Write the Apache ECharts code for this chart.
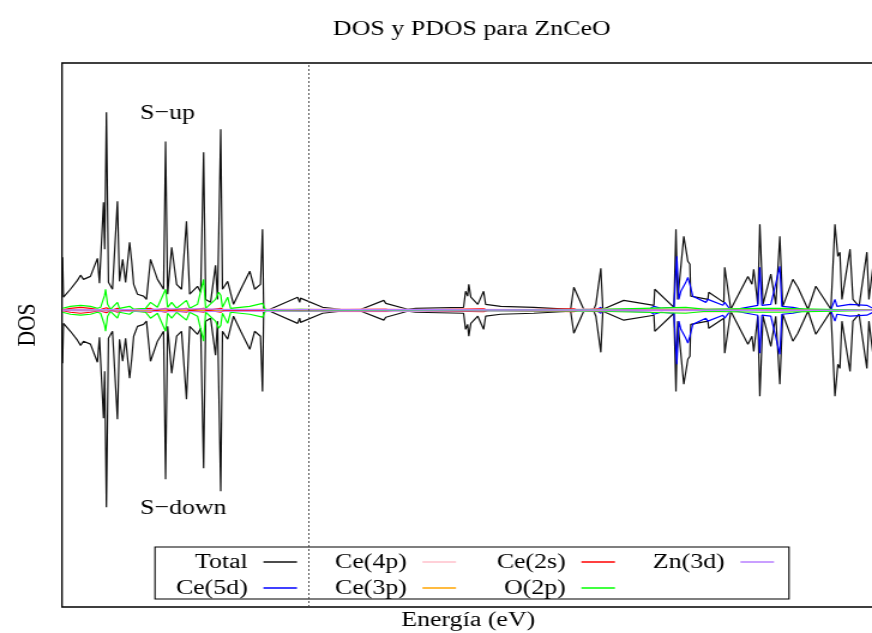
<!DOCTYPE html>
<html>
<head>
<meta charset="utf-8">
<script src="https://cdn.jsdelivr.net/npm/echarts@6/dist/echarts.min.js"></script>
<style>
  html, body { margin: 0; padding: 0; background: #ffffff; }
  /* the figure is laid out at 727px and widened to 872px, giving the wide serif lettering */
  #wrap { width: 872px; height: 633px; overflow: hidden; }
  #chart { width: 727px; height: 633px; transform: scaleX(1.19945); transform-origin: 0 0; }
</style>
</head>
<body>
<div id="wrap"><div id="chart"></div></div>
<script>
// Titles and annotations
const chartTitle = 'DOS y PDOS para ZnCeO';
const xTitle = 'Energía (eV)';
const yTitle = 'DOS';
const upLabel = 'S\u2212up';
const downLabel = 'S\u2212down';
const fermiLevel = 0;

// Total DOS: energy grid (eV) and spin-up / spin-down magnitudes
const totalE = [-8.48,-8.45,-8.21,-7.97,-7.86,-7.76,-7.52,-7.28,-7.21,-7.07,
  -7.03,-6.97,-6.90,-6.76,-6.59,-6.52,-6.41,-6.31,-6.17,-6.10,
  -6.03,-5.90,-5.69,-5.59,-5.45,-5.21,-5.00,-4.93,-4.86,-4.72,
  -4.55,-4.38,-4.21,-4.10,-3.83,-3.72,-3.62,-3.55,-3.38,-3.21,
  -3.14,-3.03,-2.97,-2.79,-2.59,-2.34,-2.03,-1.86,-1.66,-1.59,
  -1.55,-1.41,-0.38,-0.31,-0.28,0.48,1.10,1.72,2.59,2.66,
  3.41,3.69,5.34,5.41,5.48,5.52,5.59,5.83,6.03,6.10,
  6.62,7.76,9.03,9.14,9.48,9.83,9.90,10.07,10.14,10.86,
  11.90,11.93,12.59,12.66,12.72,12.93,13.07,13.14,13.17,13.76,
  13.79,14.31,14.34,14.55,15.14,15.28,15.34,15.48,15.55,15.66,
  15.93,16.10,16.24,16.34,16.69,16.86,17.21,17.48,18.00,18.14,
  18.24,18.31,18.38,18.66,18.76,18.97,19.24,19.31,19.45];
const totalUp = [2.14,0.53,0.85,1.21,1.42,1.25,1.37,2.10,1.09,4.37,
  2.47,8.01,1.13,0.85,4.41,1.17,2.06,1.13,2.75,1.98,
  1.05,0.65,0.57,0.44,2.06,1.25,0.85,6.83,0.65,2.55,
  1.05,0.85,3.60,0.65,0.97,0.73,6.39,0.44,0.32,1.82,
  0.44,7.32,0.85,1.17,0.24,0.85,1.58,0.85,1.05,3.28,
  0.04,0,0.53,0.32,0.49,0.12,0.04,0,0.40,0.28,
  0.04,0.08,0.12,0.77,0.57,1.05,0.53,0.24,0.77,0.24,
  0.16,0.12,0.04,0.93,0.04,0.04,0.24,1.70,0.04,0.40,
  0.20,0.85,0.12,3.28,0.44,2.99,1.98,1.86,0.57,0.44,
  0.73,0.32,1.74,0.04,1.37,1.05,1.66,0.24,3.48,0.24,
  1.46,0.24,2.99,0.16,1.25,0.93,0.04,0.97,0.04,3.48,
  2.18,2.35,0.44,2.47,0.44,0.16,2.35,0.44,1.78];
const totalDown = [2.14,0.53,0.85,1.21,1.42,1.25,1.37,2.10,1.09,4.37,
  2.47,7.97,1.13,0.85,4.41,1.17,2.06,1.13,2.75,1.98,
  1.05,0.65,0.57,0.44,2.06,1.25,0.85,6.83,0.65,2.55,
  1.05,0.85,3.60,0.65,0.97,0.73,6.39,0.44,0.32,1.82,
  0.44,7.32,0.85,1.17,0.24,0.85,1.58,0.85,1.05,3.28,
  0.04,0,0.53,0.32,0.49,0.12,0.04,0,0.40,0.28,
  0.04,0.08,0.12,0.77,0.57,1.05,0.53,0.24,0.77,0.24,
  0.16,0.12,0.04,0.93,0.04,0.04,0.24,1.70,0.04,0.40,
  0.20,0.85,0.12,3.28,0.44,2.99,1.98,1.86,0.57,0.44,
  0.73,0.32,1.74,0.04,1.37,1.05,1.66,0.24,3.48,0.24,
  1.46,0.24,2.99,0.16,1.25,0.93,0.04,0.97,0.04,3.48,
  2.18,2.35,0.44,2.47,0.44,0.16,2.35,0.44,1.78];

// Ce(5d)
const ce5dE = [-8.48,9.90,10.07,10.14,10.86,11.79,11.90,12.14,12.59,12.69,
  12.76,12.83,13.00,13.07,13.14,13.24,13.69,13.76,14.28,14.34,
  14.55,15.10,15.48,15.55,15.62,15.93,16.24,16.31,16.69,17.21,
  18.00,18.14,18.21,18.66,19.24,19.45];
const ce5dUp = [0,0,0.12,0,0.04,0.08,0.16,0.08,0.12,2.18,
  0.44,0.77,1.13,1.33,1.05,0.57,0.32,0.44,0.20,0.32,
  0,0.12,0.20,1.74,0.20,0.24,1.78,0.16,0.12,0,
  0.02,0.44,0.16,0.24,0.20,0.08];
const ce5dDown = [0,0,0.12,0,0.04,0.08,0.16,0.08,0.12,2.18,
  0.44,0.77,1.13,1.33,1.05,0.57,0.32,0.44,0.20,0.32,
  0,0.12,0.20,1.74,0.20,0.24,1.78,0.16,0.12,0,
  0.02,0.44,0.16,0.24,0.20,0.08];

// Ce(4p)
const ce4pE = [-8.48,-6.97,-4.93,2.59,3.41,5.52,9.14,13.00,15.55,19.45];
const ce4pUp = [0,0.04,0.04,0.06,0.04,0.04,0.05,0.08,0.06,0];
const ce4pDown = [0,0.04,0.04,0.06,0.04,0.04,0.05,0.08,0.06,0];

// Ce(3p)
const ce3pE = [-8.48,19.45];
const ce3pUp = [0,0];
const ce3pDown = [0,0];

// Ce(2s)
const ce2sE = [-8.48,-8.21,-7.86,-7.52,-7.21,-6.97,-6.80,-6.59,-6.41,-5.45,
  -5.30,-4.93,-4.80,-4.21,-4.10,-3.62,-3.50,-3.03,-2.90,2.66,
  3.00,6.03,6.20,9.14,9.30,10.07,10.20,19.45];
const ce2sUp = [0.02,0.08,0.12,0.08,0.02,0.10,0,0.08,0,0.08,
  0,0.08,0,0.08,0,0.08,0,0.08,0,0.04,
  0,0.06,0,0.06,0,0.06,0,0];
const ce2sDown = [0.02,0.08,0.12,0.08,0.02,0.10,0,0.08,0,0.08,
  0,0.08,0,0.08,0,0.08,0,0.08,0,0.04,
  0,0.06,0,0.06,0,0.06,0,0];

// O(2p)
const o2pE = [-8.48,-8.21,-7.86,-7.52,-7.28,-7.17,-7.03,-7.00,-6.93,-6.83,
  -6.59,-6.52,-6.17,-6.03,-5.62,-5.45,-5.21,-4.93,-4.86,-4.72,
  -4.55,-4.21,-4.10,-3.83,-3.62,-3.55,-3.21,-3.10,-3.03,-2.97,
  -2.79,-2.69,-2.03,-1.59,-1.48,-0.28,1.79,10.07,13.00,13.69,
  15.55,16.24,19.45];
const o2pUp = [0.08,0.16,0.20,0.16,0.08,0.12,0.61,0.85,0.24,0.04,
  0.32,0.08,0.16,0.04,0.08,0.32,0.12,0.85,0.12,0.32,
  0.08,0.40,0.08,0.24,1.25,0.08,0.44,0.73,0.61,0.12,
  0.53,0.08,0.16,0.28,0,0.04,0,0.04,0.12,0.04,
  0.08,0.08,0];
const o2pDown = [0.08,0.16,0.20,0.16,0.08,0.12,0.61,0.85,0.24,0.04,
  0.32,0.08,0.16,0.04,0.08,0.32,0.12,0.85,0.12,0.32,
  0.08,0.40,0.08,0.24,1.25,0.08,0.44,0.73,0.61,0.12,
  0.53,0.08,0.16,0.28,0,0.04,0,0.04,0.12,0.04,
  0.08,0.08,0];

// Zn(3d)
const zn3dE = [-8.48,-5.45,-4.93,-3.62,-3.03,10.07,19.45];
const zn3dUp = [0.02,0.04,0.06,0.06,0.04,0.02,0];
const zn3dDown = [0.02,0.04,0.06,0.06,0.04,0.02,0];

// Plotting order and line colours
const curves = [
  { name: 'Total',  e: totalE, up: totalUp, down: totalDown, color: '#111111', width: 1.2 },
  { name: 'Ce(5d)', e: ce5dE,  up: ce5dUp,  down: ce5dDown,  color: '#0000ff', width: 1.2 },
  { name: 'Ce(4p)', e: ce4pE,  up: ce4pUp,  down: ce4pDown,  color: '#ffc0cb', width: 1.2 },
  { name: 'Ce(3p)', e: ce3pE,  up: ce3pUp,  down: ce3pDown,  color: '#ffa500', width: 1.2 },
  { name: 'Ce(2s)', e: ce2sE,  up: ce2sUp,  down: ce2sDown,  color: '#ff0000', width: 1.2 },
  { name: 'O(2p)',  e: o2pE,   up: o2pUp,   down: o2pDown,   color: '#00ff00', width: 1.2 },
  { name: 'Zn(3d)', e: zn3dE,  up: zn3dUp,  down: zn3dDown,  color: '#b77fff', width: 1.2 }
];

const FONT = '"Liberation Serif", "Times New Roman", serif';
const FS = 21.6;

function pairs(e, v, sign) {
  return e.map(function (x, i) { return [x, sign * v[i]]; });
}

const series = [];
curves.forEach(function (c) {
  [1, -1].forEach(function (sign) {
    const s = {
      name: c.name,
      type: 'line',
      data: pairs(c.e, sign > 0 ? c.up : c.down, sign),
      symbol: 'none',
      showSymbol: false,
      silent: true,
      color: c.color,
      itemStyle: { color: c.color },
      lineStyle: { color: c.color, width: c.width },
      animation: false
    };
    if (c.name === 'Total' && sign > 0) {
      s.markLine = {
        silent: true,
        symbol: 'none',
        label: { show: false },
        lineStyle: { color: '#444', width: 0.9, type: [2, 2] },
        data: [{ xAxis: fermiLevel }]
      };
    }
    series.push(s);
  });
});

function legendColumn(names, right) {
  return {
    data: names,
    orient: 'vertical',
    align: 'right',
    right: right,
    top: 549,
    padding: 0,
    itemGap: 0,
    itemWidth: 28,
    itemHeight: 1.5,
    icon: 'rect',
    selectedMode: false,
    textStyle: {
      fontFamily: FONT, fontSize: FS, color: '#000',
      lineHeight: 26, padding: [0, 8, 0, 0]
    }
  };
}

const chart = echarts.init(document.getElementById('chart'), null, { renderer: 'canvas' });
chart.setOption({
  backgroundColor: '#ffffff',
  animation: false,
  title: {
    text: chartTitle,
    left: 277.6,
    top: 18,
    padding: 0,
    textStyle: { fontFamily: FONT, fontSize: FS, fontWeight: 'normal', color: '#000' }
  },
  grid: {
    left: 51.7, right: -2, top: 63, bottom: 26,
    outerBoundsMode: 'none',
    show: true, borderColor: '#000', borderWidth: 1.3, backgroundColor: 'transparent'
  },
  xAxis: {
    type: 'value', min: -8.5, max: 19.5,
    axisLine: { show: false }, axisTick: { show: false },
    axisLabel: { show: false }, splitLine: { show: false },
    name: xTitle, nameLocation: 'middle', nameGap: 2,
    nameTextStyle: { fontFamily: FONT, fontSize: FS, color: '#000', verticalAlign: 'top' }
  },
  yAxis: {
    type: 'value', min: -12, max: 10,
    axisLine: { show: false }, axisTick: { show: false },
    axisLabel: { show: false }, splitLine: { show: false },
    name: yTitle, nameLocation: 'middle', nameGap: 17, nameRotate: 90,
    nameTextStyle: { fontFamily: FONT, fontSize: FS, color: '#000', padding: [0, 0, 0, 20] }
  },
  legend: [
    legendColumn(['Total', 'Ce(5d)'], 479.4),
    legendColumn(['Ce(4p)', 'Ce(3p)'], 346.8),
    legendColumn(['Ce(2s)', 'O(2p)'], 214.3),
    legendColumn(['Zn(3d)'], 81.7)
  ],
  graphic: [
    {
      type: 'rect', silent: true, z: 3,
      shape: { x: 129.2, y: 547, width: 528.6, height: 52 },
      style: { fill: 'none', stroke: '#000', lineWidth: 1.1 }
    },
    {
      type: 'text', silent: true, left: 116.7, top: 102,
      style: { text: upLabel, font: FS + 'px ' + FONT, fill: '#000' }
    },
    {
      type: 'text', silent: true, left: 116.7, top: 497,
      style: { text: downLabel, font: FS + 'px ' + FONT, fill: '#000' }
    }
  ],
  series: series
});
</script>
</body>
</html>
